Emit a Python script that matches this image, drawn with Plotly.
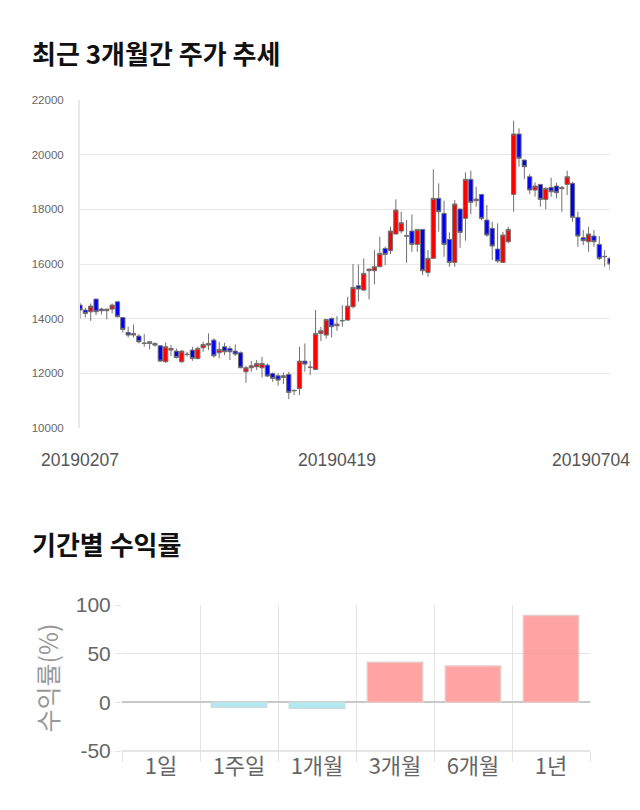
import pandas as pd
import plotly.graph_objects as go

# ---------------- data ----------------
holidays = ["2019-03-01", "2019-05-01", "2019-05-06", "2019-06-06", "2019-03-28", "2019-03-29"]
dates = [d.strftime("%Y%m%d") for d in pd.bdate_range("2019-02-07", "2019-07-04")
         if d.strftime("%Y-%m-%d") not in holidays]

opens = [14497, 14314, 14253, 14717, 14350, 14289, 14350, 14619, 14045, 13496,
         13399, 13362, 13110, 13094, 13094, 13008, 12423, 12850, 12813, 12423,
         12703, 12850, 12545, 12935, 13033, 13216, 12752, 12972, 12911, 12813,
         12752, 12057, 12203, 12240, 12203, 12301, 11996, 11911, 11850, 11959,
         11361, 11447, 12447, 12230, 12142, 13460, 13399, 14009, 13740, 13935,
         13948, 14436, 15205, 15046, 15754, 15754, 15900, 16571, 16486, 17096,
         17205, 17040, 17205, 16717, 17266, 15693, 16206, 18401, 17852, 16901,
         16059, 18011, 17669, 19097, 18316, 18547, 17608, 17303, 16547, 16059,
         16815, 18547, 20756, 19804, 19194, 18706, 18913, 18364, 18804, 18852,
         18755, 18913, 18950, 17706, 16962, 16815, 17022, 16717, 16280, 16206]
highs = [14582, 14399, 14558, 14717, 14399, 14350, 14558, 14619, 14045, 13704,
         13789, 13435, 13435, 13155, 13130, 13033, 13130, 13033, 12911, 12850,
         12789, 12972, 12972, 13155, 13460, 13280, 13155, 13118, 13008, 13057,
         12800, 12276, 12447, 12484, 12606, 12362, 12032, 11996, 12032, 12057,
         11410, 12972, 13094, 12447, 14314, 13704, 13972, 14045, 14094, 14497,
         14802, 15998, 15986, 16206, 15815, 16510, 16998, 16632, 17364, 18364,
         17913, 17608, 17815, 17266, 17266, 16510, 19462, 18950, 18316, 17157,
         18340, 18011, 19353, 19414, 18828, 18547, 18157, 17547, 17486, 17181,
         17364, 21244, 20963, 19804, 19292, 18987, 18913, 18804, 19158, 18975,
         18852, 19414, 19011, 17913, 17242, 17364, 17242, 17022, 16510, 16267]
lows = [14009, 14045, 13923, 14131, 14155, 13972, 14192, 14045, 13496, 13313,
        13313, 13094, 12972, 12874, 12972, 12423, 12386, 12630, 12545, 12386,
        12606, 12459, 12508, 12789, 12850, 12569, 12545, 12667, 12484, 12630,
        12190, 11654, 12057, 12118, 11850, 11870, 11691, 11544, 11605, 11056,
        11203, 11203, 12057, 11935, 12142, 13179, 13270, 13313, 13557, 13704,
        13923, 14375, 14619, 15021, 14704, 15254, 15900, 15961, 16364, 17096,
        17120, 16047, 16449, 16449, 15595, 15534, 16206, 17181, 16267, 15900,
        15900, 16595, 16852, 17815, 18096, 17608, 16998, 16144, 16047, 16047,
        16754, 17913, 19560, 19109, 18560, 18462, 18096, 17999, 18462, 18401,
        17913, 18523, 17547, 16632, 16693, 16449, 16632, 16144, 15900, 15778]
closes = [14314, 14192, 14460, 14253, 14289, 14350, 14497, 14070, 13606, 13399,
          13460, 13155, 13094, 13155, 13033, 12447, 12972, 12911, 12581, 12813,
          12690, 12545, 12911, 13057, 13094, 12642, 12874, 12789, 12789, 12703,
          12203, 12203, 12276, 12362, 12362, 11898, 11813, 11752, 11911, 11300,
          11375, 12447, 12337, 12218, 13460, 13557, 13972, 13704, 13800, 13923,
          14460, 15144, 15083, 15656, 15815, 15900, 16388, 16352, 17205, 17974,
          17510, 17022, 16717, 17266, 15754, 16206, 18401, 17913, 16717, 16059,
          18194, 17157, 19097, 18255, 18377, 17669, 17059, 16656, 16108, 17059,
          17266, 20756, 19866, 19560, 18706, 18852, 18364, 18767, 18645, 18608,
          18804, 19194, 17706, 17022, 16852, 17096, 16815, 16206, 16267, 15998]

price_ticks = [10000, 12000, 14000, 16000, 18000, 20000, 22000]
date_labels = ["20190207", "20190419", "20190704"]

periods = ["1일", "1주일", "1개월", "3개월", "6개월", "1년"]
returns = [0.0, -5.1, -6.1, 41.2, 37.4, 89.1]
return_ticks = [-50, 0, 50, 100]
return_ticktext = ["-50", "0", "50", "100"]

# ---------------- figure ----------------
W, H = 640, 810
fig = go.Figure()

fig.add_trace(go.Candlestick(
    x=list(range(len(dates))), open=opens, high=highs, low=lows, close=closes,
    text=dates,
    increasing=dict(fillcolor="#ff0000", line=dict(color="#707070", width=1)),
    decreasing=dict(fillcolor="#0000ff", line=dict(color="#707070", width=1)),
    whiskerwidth=0, xaxis="x", yaxis="y", showlegend=False,
))

bar_fill = ["rgba(255,140,140,0.8)" if v >= 0 else "rgba(150,225,235,0.75)" for v in returns]
bar_line = ["#e8cccc" if v >= 0 else "#c8dde0" for v in returns]
bar_lw = [1.5 if v != 0 else 0 for v in returns]
fig.add_trace(go.Bar(
    x=periods, y=returns, marker=dict(color=bar_fill, line=dict(color=bar_line, width=bar_lw)),
    width=0.71, xaxis="x2", yaxis="y2", showlegend=False,
))


def px_x(p):
    return p / W


def px_y(p):
    return 1 - p / H


num_font = dict(family="Liberation Sans, Arial, sans-serif", color="#666666")
kr_font = "Noto Sans CJK KR, sans-serif"

fig.update_layout(
    width=W, height=H, margin=dict(l=0, r=0, t=0, b=0, autoexpand=False),
    paper_bgcolor="white", plot_bgcolor="white",
    boxgap=0.12, boxgroupgap=0.1,
    xaxis=dict(domain=[px_x(80), px_x(610)], range=[0, len(dates) - 1],
               showgrid=False, showticklabels=False, ticks="", zeroline=False,
               rangeslider=dict(visible=False), anchor="y", fixedrange=True),
    yaxis=dict(domain=[px_y(428), px_y(100)], range=[10000, 22000], tickvals=price_ticks,
               tickformat="d",
               showgrid=True, gridcolor="#e8e8e8", gridwidth=1, zeroline=False,
               showline=True, linecolor="#e8e8e8", linewidth=2,
               ticks="", ticklabelstandoff=12, tickfont=dict(size=11.5, **num_font),
               anchor="x"),
    xaxis2=dict(domain=[px_x(122), px_x(590)], type="category", tickson="boundaries",
                showgrid=True, gridcolor="#e3e3e3", ticks="outside", ticklen=10,
                tickcolor="#e3e3e3", showline=False, zeroline=False,
                tickfont=dict(size=22, family=kr_font, color="#666666"), anchor="y2"),
    yaxis2=dict(domain=[px_y(751), px_y(605)], range=[-50, 100], tickvals=return_ticks,
                ticktext=return_ticktext,
                showgrid=True, gridcolor="#e3e3e3", zeroline=True, zerolinecolor="#c8c8c8",
                zerolinewidth=1.5, ticks="outside", ticklen=6, tickcolor="#e3e3e3",
                tickfont=dict(size=21, **num_font), anchor="x2",
                title=dict(text="수익률(%)", font=dict(size=25, family=kr_font, color="#999999"),
                           standoff=10)),
    shapes=[dict(type="line", xref="paper", yref="paper", x0=px_x(122), x1=px_x(590),
                 y0=px_y(751), y1=px_y(751), line=dict(color="#cccccc", width=1))],
)

annotations = [
    dict(text="<b>최근 3개월간 주가 추세</b>", x=px_x(30), y=px_y(52), xref="paper", yref="paper",
         xanchor="left", yanchor="middle", showarrow=False,
         font=dict(size=26, family=kr_font, color="#111111")),
    dict(text="<b>기간별 수익률</b>", x=px_x(30), y=px_y(543), xref="paper", yref="paper",
         xanchor="left", yanchor="middle", showarrow=False,
         font=dict(size=26, family=kr_font, color="#111111")),
]
for i, lab in enumerate(date_labels):
    if lab in dates:
        idx = dates.index(lab)
        anchor = "right" if i == len(date_labels) - 1 else "center"
        shift = 22 if anchor == "right" else 0
        annotations.append(dict(text=lab, x=idx, y=px_y(460), xref="x", yref="paper",
                                xanchor=anchor, yanchor="middle", xshift=shift, showarrow=False,
                                font=dict(size=17.5, family=num_font["family"], color="#555555")))
fig.update_layout(annotations=annotations)

fig.write_html("out.html")
